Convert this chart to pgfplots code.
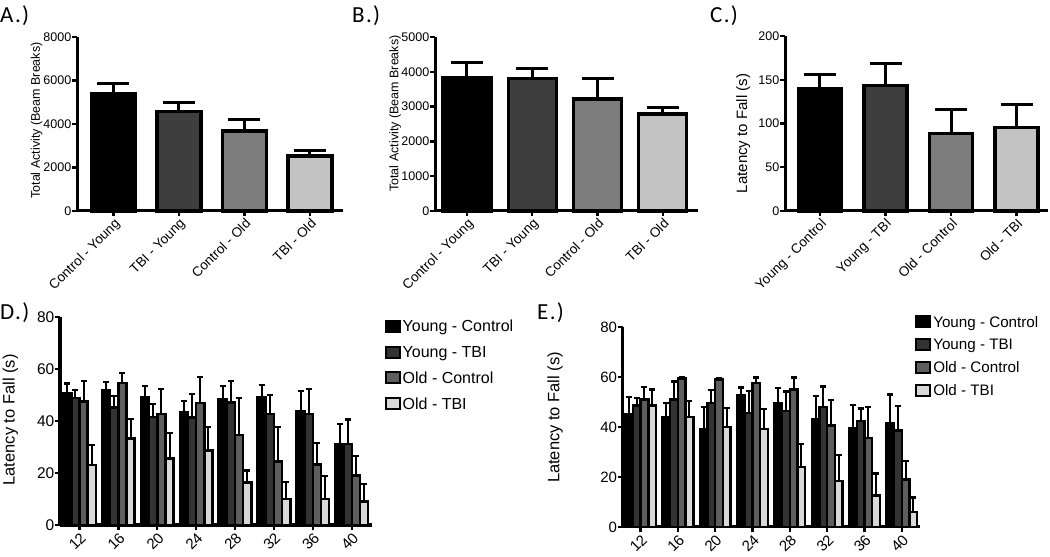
\documentclass[border=0pt]{standalone}
\usepackage{pgfplots}
\pgfplotsset{compat=1.18}
\usepackage{pgfplotstable}
\usepackage{fontspec}
\setmainfont{Liberation Sans}
\newfontfamily\calfont[LetterSpace=6]{Carlito}
\definecolor{cA}{HTML}{000000}
\definecolor{cB}{HTML}{3E3E3E}
\definecolor{cC}{HTML}{7C7C7C}
\definecolor{cD}{HTML}{C3C3C3}
\definecolor{dB}{HTML}{333333}
\definecolor{dC}{HTML}{5E5E5E}
\definecolor{dD}{HTML}{D8D8D8}

% Panel D: Young-Control, Young-TBI, Old-Control, Old-TBI (mean, +SEM)
\pgfplotstableread{
x yc yce yt yte oc oce ot ote
0 50.6 3.8 48.8 3.2 47.5 7.8 23.0 7.9
1 51.8 3.2 45.2 4.3 54.7 3.8 33.2 7.7
2 49.1 4.5 41.6 4.8 42.6 9.8 25.6 9.8
3 43.2 4.5 41.3 9.2 47.0 9.9 28.7 9.0
4 48.4 5.2 47.1 8.3 34.6 14.4 16.3 4.7
5 49.0 5.0 42.6 7.5 24.5 13.2 10.0 6.4
6 43.9 7.5 42.6 9.8 23.3 8.2 10.0 8.7
7 31.1 7.9 31.1 9.5 19.1 7.3 9.1 6.7
}\tableD

% Panel E
\pgfplotstableread{
x yc yce yt yte oc oce ot ote
0 45.2 6.9 48.6 2.9 50.9 5.2 48.5 6.5
1 43.9 5.6 50.9 7.3 59.3 0.5 44.0 6.5
2 39.2 8.9 49.6 5.2 58.9 0.6 40.0 7.5
3 52.7 3.1 45.6 8.9 57.6 2.2 39.2 7.9
4 49.3 6.2 46.3 7.9 54.9 4.9 23.9 9.2
5 43.2 9.3 47.9 8.3 40.6 10.2 18.3 10.5
6 39.6 9.1 42.3 5.1 35.6 12.5 12.6 8.8
7 41.6 11.4 38.6 9.9 18.9 7.6 6.0 5.8
}\tableE

\pgfplotsset{
  panel/.style={
    scale only axis, axis lines*=left, clip=false,
    axis line style={line width=3pt, black},
    every outer x axis line/.append style={line width=3pt},
    every outer y axis line/.append style={line width=3pt},
    tick align=outside, tick pos=left, major tick length=5pt,
    every tick/.style={black, line width=2.4pt},
    ymin=0,
    /pgf/number format/assume math mode=true,
    /pgf/number format/1000 sep={},
    yticklabel style={font=\fontsize{12.5}{14}\selectfont, inner sep=0.5pt},
    xticklabel style={rotate=45, anchor=north east, inner sep=1pt, font=\fontsize{13.5}{15}\selectfont},
    every axis y label/.style={rotate=90, anchor=center, font=\fontsize{12.5}{14}\selectfont},
  },
  abar/.style={ybar, bar shift=0pt, draw=black, line width=3.2pt, fill=#1,
    error bars/y dir=plus, error bars/y explicit,
    error bars/error bar style={line width=3pt, black},
    error bars/error mark options={rotate=90, line width=3pt, black, mark size=16pt}},
  dbar/.style={draw=black, line width=2.5pt, fill=#1,
    legend image code/.code={\draw[##1, line width=2pt] (0pt,-5pt) rectangle (14pt,6pt);},
    error bars/y dir=plus, error bars/y explicit,
    error bars/error bar style={line width=2pt, black},
    error bars/error mark options={rotate=90, line width=2.2pt, black, mark size=3pt}},
}

\begin{document}
\begin{tikzpicture}[x=1pt,y=1pt]
\useasboundingbox (0,0) rectangle (1050,557);

% ---------- A ----------
\begin{axis}[panel, at={(77pt,346pt)}, anchor=south west, width=266pt, height=174pt,
  xmin=-0.557, xmax=3.504, ymax=8000, ytick={0,2000,4000,6000,8000},
  xtick={0,1,2,3}, bar width=0.67,
  xticklabels={Control - Young, TBI - Young, Control - Old, TBI - Old},
  ylabel={Total Activity (Beam Breaks)},
  ylabel style={at={(axis description cs:-0.152,0.52)}}]
\addplot[abar=cA] coordinates {(0,5380) +- (0,460)};
\addplot[abar=cB] coordinates {(1,4560) +- (0,415)};
\addplot[abar=cC] coordinates {(2,3680) +- (0,505)};
\addplot[abar=cD] coordinates {(3,2530) +- (0,230)};
\end{axis}

% ---------- B ----------
\begin{axis}[panel, at={(435pt,346pt)}, anchor=south west, width=263pt, height=174pt,
  xmin=-0.49, xmax=3.54, ymax=5000, ytick={0,1000,2000,3000,4000,5000},
  xtick={0,1,2,3}, bar width=0.735,
  xticklabels={Control - Young, TBI - Young, Control - Old, TBI - Old},
  ylabel={Total Activity (Beam Breaks)},
  ylabel style={at={(axis description cs:-0.152,0.56)}}]
\addplot[abar=cA] coordinates {(0,3820) +- (0,460)};
\addplot[abar=cB] coordinates {(1,3800) +- (0,290)};
\addplot[abar=cC] coordinates {(2,3220) +- (0,600)};
\addplot[abar=cD] coordinates {(3,2790) +- (0,175)};
\end{axis}

% ---------- C ----------
\begin{axis}[panel, at={(785pt,346pt)}, anchor=south west, width=263pt, height=175pt,
  xmin=-0.534, xmax=3.48, ymax=200, ytick={0,50,100,150,200},
  xtick={0,1,2,3}, bar width=0.656,
  xticklabels={Young - Control, Young - TBI, Old - Control, Old - TBI},
  ylabel={Latency to Fall (s)},
  every axis y label/.append style={font=\fontsize{15}{17}\selectfont},
  ylabel style={at={(axis description cs:-0.159,0.443)}}]
\addplot[abar=cA] coordinates {(0,139.5) +- (0,17)};
\addplot[abar=cB] coordinates {(1,143) +- (0,26)};
\addplot[abar=cC] coordinates {(2,89) +- (0,26.6)};
\addplot[abar=cD] coordinates {(3,95) +- (0,27)};
\end{axis}

% ---------- D ----------
\begin{axis}[panel, at={(60pt,32pt)}, anchor=south west, width=312pt, height=208pt,
  xmin=-0.50, xmax=7.52, ymax=80, ytick={0,20,40,60,80},
  xtick={0,...,7}, xticklabels={12,16,20,24,28,32,36,40},
  ybar=0pt, bar width=0.21,
  yticklabel style={font=\fontsize{15.5}{17}\selectfont},
  xticklabel style={font=\fontsize{15}{17}\selectfont},
  ylabel={Latency to Fall (s)},
  every axis y label/.append style={font=\fontsize{16.5}{18}\selectfont},
  ylabel style={at={(axis description cs:-0.159,0.505)}},
  legend style={at={(1.04,0.995)}, anchor=north west, draw=none, fill=none,
    font=\fontsize{16}{18}\selectfont, row sep=9pt, inner sep=0pt},
  legend cell align=left]
\addplot[dbar=cA, bar shift=-0.315] table[x=x, y=yc, y error=yce] {\tableD};
\addplot[dbar=dB, bar shift=-0.105] table[x=x, y=yt, y error=yte] {\tableD};
\addplot[dbar=dC, bar shift=0.105] table[x=x, y=oc, y error=oce] {\tableD};
\addplot[dbar=dD, bar shift=0.315] table[x=x, y=ot, y error=ote] {\tableD};
\legend{Young - Control, Young - TBI, Old - Control, Old - TBI}
\end{axis}

% ---------- E ----------
\begin{axis}[panel, at={(622.7pt,30pt)}, anchor=south west, width=297.7pt, height=200pt,
  xmin=-0.48, xmax=7.5, ymax=80, ytick={0,20,40,60,80},
  xtick={0,...,7}, xticklabels={12,16,20,24,28,32,36,40},
  ybar=0pt, bar width=0.206,
  yticklabel style={font=\fontsize{15}{17}\selectfont},
  xticklabel style={font=\fontsize{15}{17}\selectfont},
  ylabel={Latency to Fall (s)},
  every axis y label/.append style={font=\fontsize{16.5}{18}\selectfont},
  ylabel style={at={(axis description cs:-0.227,0.548)}},
  legend style={at={(0.982,1.065)}, anchor=north west, draw=none, fill=none,
    font=\fontsize{15.2}{17}\selectfont, row sep=6.5pt, inner sep=0pt},
  legend cell align=left]
\addplot[dbar=cA, bar shift=-0.309] table[x=x, y=yc, y error=yce] {\tableE};
\addplot[dbar=dB, bar shift=-0.103] table[x=x, y=yt, y error=yte] {\tableE};
\addplot[dbar=dC, bar shift=0.103] table[x=x, y=oc, y error=oce] {\tableE};
\addplot[dbar=dD, bar shift=0.309] table[x=x, y=ot, y error=ote] {\tableE};
\legend{Young - Control, Young - TBI, Old - Control, Old - TBI}
\end{axis}

% panel labels
\node[anchor=north west, inner sep=0pt, font=\calfont\fontsize{23}{25}\selectfont] at (0,552) {A.)};
\node[anchor=north west, inner sep=0pt, font=\calfont\fontsize{23}{25}\selectfont] at (352,552) {B.)};
\node[anchor=north west, inner sep=0pt, font=\calfont\fontsize{23}{25}\selectfont] at (710,552) {C.)};
\node[anchor=north west, inner sep=0pt, font=\calfont\fontsize{23}{25}\selectfont] at (0,255) {D.)};
\node[anchor=north west, inner sep=0pt, font=\calfont\fontsize{23}{25}\selectfont] at (537,255) {E.)};
\end{tikzpicture}
\end{document}
